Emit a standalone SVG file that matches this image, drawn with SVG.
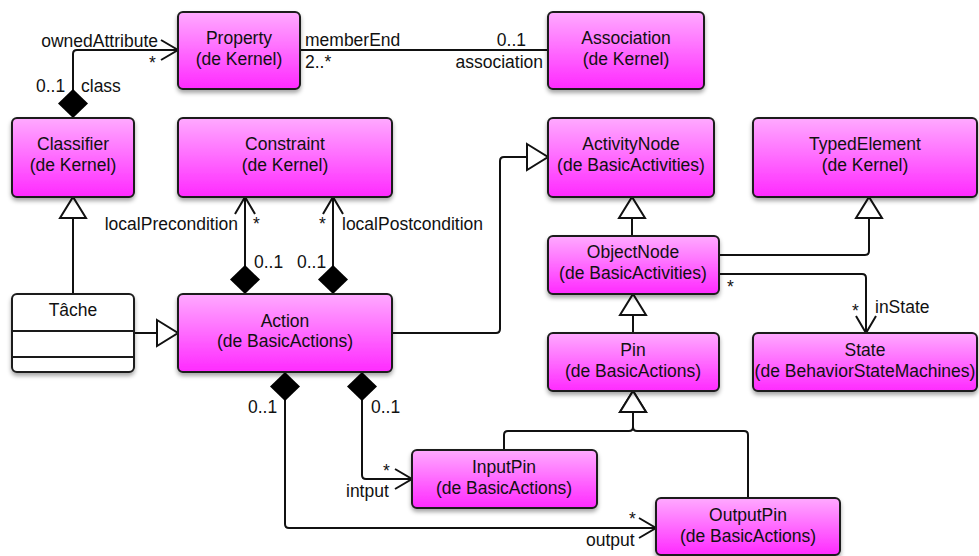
<svg xmlns="http://www.w3.org/2000/svg" width="979" height="556" viewBox="0 0 979 556">
<defs>
<linearGradient id="g" x1="0" y1="0" x2="0" y2="1">
<stop offset="0" stop-color="#ffaaff"/>
<stop offset="1" stop-color="#ff2aff"/>
</linearGradient>
<filter id="sh" x="-10%" y="-10%" width="120%" height="130%">
<feDropShadow dx="0" dy="3" stdDeviation="2" flood-color="#000" flood-opacity="0.35"/>
</filter>
<marker id="open" markerUnits="userSpaceOnUse" markerWidth="20" markerHeight="22" refX="17" refY="11" orient="auto" overflow="visible">
<path d="M0,1 L17,11 L0,21" fill="none" stroke="#111" stroke-width="2"/>
</marker>
<marker id="tri" markerUnits="userSpaceOnUse" markerWidth="24" markerHeight="28" refX="21" refY="13" orient="auto" overflow="visible">
<path d="M0,0 L21,13 L0,26 Z" fill="#fff" stroke="#111" stroke-width="2"/>
</marker>
<marker id="dia" markerUnits="userSpaceOnUse" markerWidth="30" markerHeight="30" refX="0" refY="15" orient="auto" overflow="visible">
<path d="M0,15 L14.5,0 L29,15 L14.5,30 Z" fill="#000"/>
</marker>
</defs>
<style>
.box{fill:url(#g);stroke:#1a1a1a;stroke-width:2;filter:url(#sh)}
.wbox{fill:#fff;stroke:#1a1a1a;stroke-width:2;filter:url(#sh)}
.t{font-family:"Liberation Sans",Arial,sans-serif;font-size:17.5px;fill:#111;text-anchor:middle}
.l{font-family:"Liberation Sans",Arial,sans-serif;font-size:17.5px;fill:#111}
.e{text-anchor:end}
.c{fill:none;stroke:#111;stroke-width:2}
</style>
<g id="connectors">
<path class="c" d="M73,118 L73,54 Q73,50 77,50 L178,50" marker-start="url(#dia)" marker-end="url(#open)"/>
<path class="c" d="M300,50 L548,50"/>
<path class="c" d="M73,294 L73,197" marker-end="url(#tri)"/>
<path class="c" d="M134,333 L178,333" marker-end="url(#tri)"/>
<path class="c" d="M245,294 L245,197" marker-start="url(#dia)" marker-end="url(#open)"/>
<path class="c" d="M333,294 L333,197" marker-start="url(#dia)" marker-end="url(#open)"/>
<path class="c" d="M392,333 L496,333 Q500,333 500,329 L500,161 Q500,157 504,157 L548,157" marker-end="url(#tri)"/>
<path class="c" d="M632,236 L632,197" marker-end="url(#tri)"/>
<path class="c" d="M719,255 L865,255 Q869,255 869,251 L869,197" marker-end="url(#tri)"/>
<path class="c" d="M719,274 L862,274 Q866,274 866,278 L866,333" marker-end="url(#open)"/>
<path class="c" d="M633,333 L633,294" marker-end="url(#tri)"/>
<path class="c" d="M504,450 L504,435 Q504,431 508,431 L629,431 Q633,431 633,427 L633,391" marker-end="url(#tri)"/>
<path class="c" d="M748,498 L748,435 Q748,431 744,431 L637,431 Q633,431 633,427 L633,391" marker-end="url(#tri)"/>
<path class="c" d="M362,372 L362,475 Q362,479 366,479 L412,479" marker-start="url(#dia)" marker-end="url(#open)"/>
<path class="c" d="M285,372 L285,524 Q285,528 289,528 L656,528" marker-start="url(#dia)" marker-end="url(#open)"/>
<text class="l e" x="158" y="47">ownedAttribute</text>
<text class="l" x="149" y="69">*</text>
<text class="l" x="36" y="92">0..1</text>
<text class="l" x="81" y="92">class</text>
<text class="l" x="305" y="46">memberEnd</text>
<text class="l" x="305" y="68">2..*</text>
<text class="l e" x="526" y="46">0..1</text>
<text class="l e" x="543" y="68">association</text>
<text class="l e" x="238" y="230">localPrecondition</text>
<text class="l" x="253" y="230">*</text>
<text class="l" x="254" y="268">0..1</text>
<text class="l" x="297" y="268">0..1</text>
<text class="l" x="319" y="230">*</text>
<text class="l" x="342" y="230">localPostcondition</text>
<text class="l" x="727" y="293">*</text>
<text class="l" x="852" y="317">*</text>
<text class="l" x="875" y="313">inState</text>
<text class="l" x="248" y="413">0..1</text>
<text class="l" x="371" y="413">0..1</text>
<text class="l" x="383" y="477">*</text>
<text class="l" x="346" y="497">intput</text>
<text class="l" x="629" y="525">*</text>
<text class="l" x="586" y="546">output</text>
</g>
<g id="property"><rect class="box" x="178" y="12" width="122" height="77" rx="5"/><text class="t" x="239" y="44">Property</text><text class="t" x="239" y="65">(de Kernel)</text></g>
<g id="association"><rect class="box" x="548" y="12" width="156" height="77" rx="5"/><text class="t" x="626" y="44">Association</text><text class="t" x="626" y="65">(de Kernel)</text></g>
<g id="classifier"><rect class="box" x="12" y="118" width="122" height="79" rx="5"/><text class="t" x="73" y="150">Classifier</text><text class="t" x="73" y="171">(de Kernel)</text></g>
<g id="constraint"><rect class="box" x="178" y="118" width="214" height="79" rx="5"/><text class="t" x="285" y="150">Constraint</text><text class="t" x="285" y="171">(de Kernel)</text></g>
<g id="activitynode"><rect class="box" x="548" y="118" width="166" height="79" rx="5"/><text class="t" x="631" y="150">ActivityNode</text><text class="t" x="631" y="171">(de BasicActivities)</text></g>
<g id="typedelement"><rect class="box" x="753" y="118" width="224" height="79" rx="5"/><text class="t" x="865" y="150">TypedElement</text><text class="t" x="865" y="171">(de Kernel)</text></g>
<g id="objectnode"><rect class="box" x="548" y="236" width="171" height="58" rx="5"/><text class="t" x="633" y="258">ObjectNode</text><text class="t" x="633" y="279">(de BasicActivities)</text></g>
<g id="tache"><rect class="wbox" x="12" y="294" width="122" height="78" rx="5"/><line x1="12" y1="331" x2="134" y2="331" stroke="#1a1a1a" stroke-width="2"/><line x1="12" y1="357" x2="134" y2="357" stroke="#1a1a1a" stroke-width="2"/><text class="t" x="73" y="316">Tâche</text></g>
<g id="action"><rect class="box" x="178" y="294" width="214" height="78" rx="5"/><text class="t" x="285" y="327">Action</text><text class="t" x="285" y="347">(de BasicActions)</text></g>
<g id="pin"><rect class="box" x="548" y="333" width="171" height="58" rx="5"/><text class="t" x="633" y="356">Pin</text><text class="t" x="633" y="377">(de BasicActions)</text></g>
<g id="state"><rect class="box" x="753" y="333" width="224" height="58" rx="5"/><text class="t" x="865" y="356">State</text><text class="t" x="865" y="377">(de BehaviorStateMachines)</text></g>
<g id="inputpin"><rect class="box" x="412" y="450" width="185" height="58" rx="5"/><text class="t" x="504" y="473">InputPin</text><text class="t" x="504" y="494">(de BasicActions)</text></g>
<g id="outputpin"><rect class="box" x="656" y="498" width="184" height="57" rx="5"/><text class="t" x="748" y="521">OutputPin</text><text class="t" x="748" y="542">(de BasicActions)</text></g>
</svg>
